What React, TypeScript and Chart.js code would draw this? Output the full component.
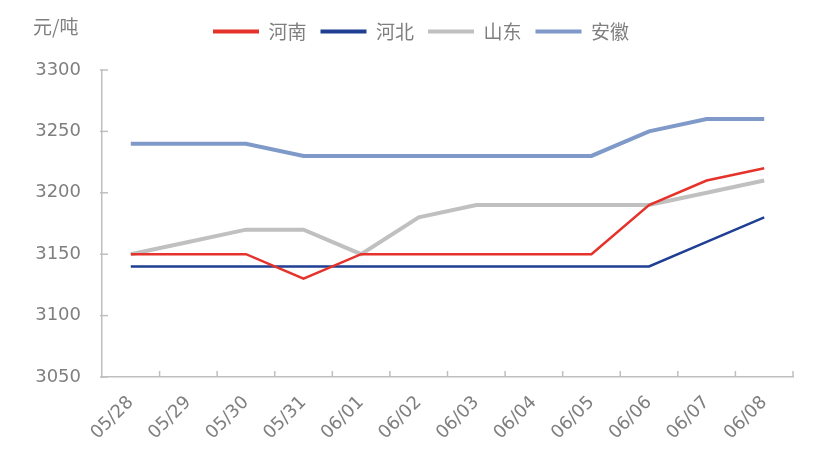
import React, { useEffect, useRef } from "react";
import { Chart, registerables } from "chart.js";
Chart.register(...registerables);

const categories = ["05/28", "05/29", "05/30", "05/31", "06/01", "06/02", "06/03", "06/04", "06/05", "06/06", "06/07", "06/08"];
const henan = [3150, 3150, 3150, 3130, 3150, 3150, 3150, 3150, 3150, 3190, 3210, 3220];
const hebei = [3140, 3140, 3140, 3140, 3140, 3140, 3140, 3140, 3140, 3140, 3160, 3180];
const shandong = [3150, 3160, 3170, 3170, 3150, 3180, 3190, 3190, 3190, 3190, 3200, 3210];
const anhui = [3240, 3240, 3240, 3230, 3230, 3230, 3230, 3230, 3230, 3250, 3260, 3260];
const seriesNames = ["河南", "河北", "山东", "安徽"];
const unitLabel = "元/吨";

const CJK = "'Noto Sans CJK SC', 'Noto Sans', sans-serif";
const NUM = "'DejaVu Sans', 'Noto Sans CJK SC', sans-serif";
const TEXT = "#7f7f7f";
const AXIS = "#bfbfbf";

const innerTicks = {
  id: "innerTicks",
  afterDraw(chart: any) {
    const x = chart.scales.x;
    const y = chart.scales.y;
    const ctx = chart.ctx;
    const n = categories.length;
    const w = (x.right - x.left) / n;
    ctx.save();
    ctx.strokeStyle = AXIS;
    ctx.lineWidth = 1.5;
    for (let i = 1; i <= n; i++) {
      const px = x.left + i * w;
      ctx.beginPath();
      ctx.moveTo(px, x.top);
      ctx.lineTo(px, x.top - 6);
      ctx.stroke();
    }
    y.ticks.forEach((t: any) => {
      const py = y.getPixelForValue(t.value);
      ctx.beginPath();
      ctx.moveTo(y.right - 2, py);
      ctx.lineTo(y.right + 6, py);
      ctx.stroke();
    });
    ctx.restore();
  },
};

const unitPlugin = {
  id: "unitPlugin",
  afterDraw(chart: any) {
    const ctx = chart.ctx;
    ctx.save();
    ctx.fillStyle = TEXT;
    ctx.font = `19px ${CJK}`;
    ctx.textAlign = "left";
    ctx.textBaseline = "middle";
    ctx.fillText(unitLabel, chart.scales.y.left, 27);
    ctx.restore();
  },
};

const legendSpacer = {
  id: "legendSpacer",
  beforeInit(chart: any) {
    const orig = chart.legend.fit;
    chart.legend.fit = function () {
      orig.call(this);
      this.height += 19;
    };
  },
  afterLayout(chart: any) {
    chart.legend.left += 8;
    chart.legend.right += 8;
  },
};

export default function App() {
  const ref = useRef<HTMLCanvasElement>(null);
  useEffect(() => {
    document.body.style.margin = "0";
    const colors = ["#e5322b", "#1f3f93", "#c0c0c0", "#7f9ac8"];
    const widths = [2.5, 2.5, 4, 4];
    const values = [henan, hebei, shandong, anhui];
    const chart = new Chart(ref.current!, {
      type: "line",
      data: {
        labels: categories,
        datasets: values.map((v, i) => ({
          label: seriesNames[i],
          data: v,
          borderColor: colors[i],
          backgroundColor: colors[i],
          borderWidth: widths[i],
          pointRadius: 0,
          tension: 0,
          fill: false,
        })),
      },
      options: {
        animation: false,
        responsive: true,
        maintainAspectRatio: false,
        layout: { padding: { top: 8, right: 46, bottom: 4, left: 33 } },
        plugins: {
          tooltip: { enabled: false },
          legend: {
            position: "top",
            labels: {
              font: { family: CJK, size: 19 },
              color: TEXT,
              boxWidth: 46,
              boxHeight: 4,
              padding: 14,
              generateLabels: (c: any) =>
                c.data.datasets.map((d: any, i: number) => ({
                  text: d.label,
                  fillStyle: d.borderColor,
                  strokeStyle: d.borderColor,
                  lineWidth: 0,
                  fontColor: TEXT,
                  datasetIndex: i,
                  hidden: false,
                })),
            },
          },
        },
        scales: {
          x: {
            offset: true,
            grid: { display: false, drawTicks: false },
            border: { display: true, color: AXIS, width: 1.5 },
            afterFit: (s: any) => {
              s.height = 69;
            },
            ticks: {
              font: { family: NUM, size: 18 },
              color: TEXT,
              maxRotation: 45,
              minRotation: 45,
              padding: 15,
            },
          },
          y: {
            min: 3050,
            max: 3300,
            afterFit: (s: any) => {
              s.width = 69;
            },
            ticks: {
              stepSize: 50,
              font: { family: NUM, size: 18 },
              color: TEXT,
              padding: 21,
              callback: (v: any) => String(v),
            },
            grid: { display: false, drawTicks: false },
            border: { display: true, color: AXIS, width: 1.5 },
          },
        },
      },
      plugins: [innerTicks, unitPlugin, legendSpacer],
    });
    return () => chart.destroy();
  }, []);
  return (
    <div style={{ position: "relative", width: 839, height: 450 }}>
      <canvas ref={ref} />
    </div>
  );
}
